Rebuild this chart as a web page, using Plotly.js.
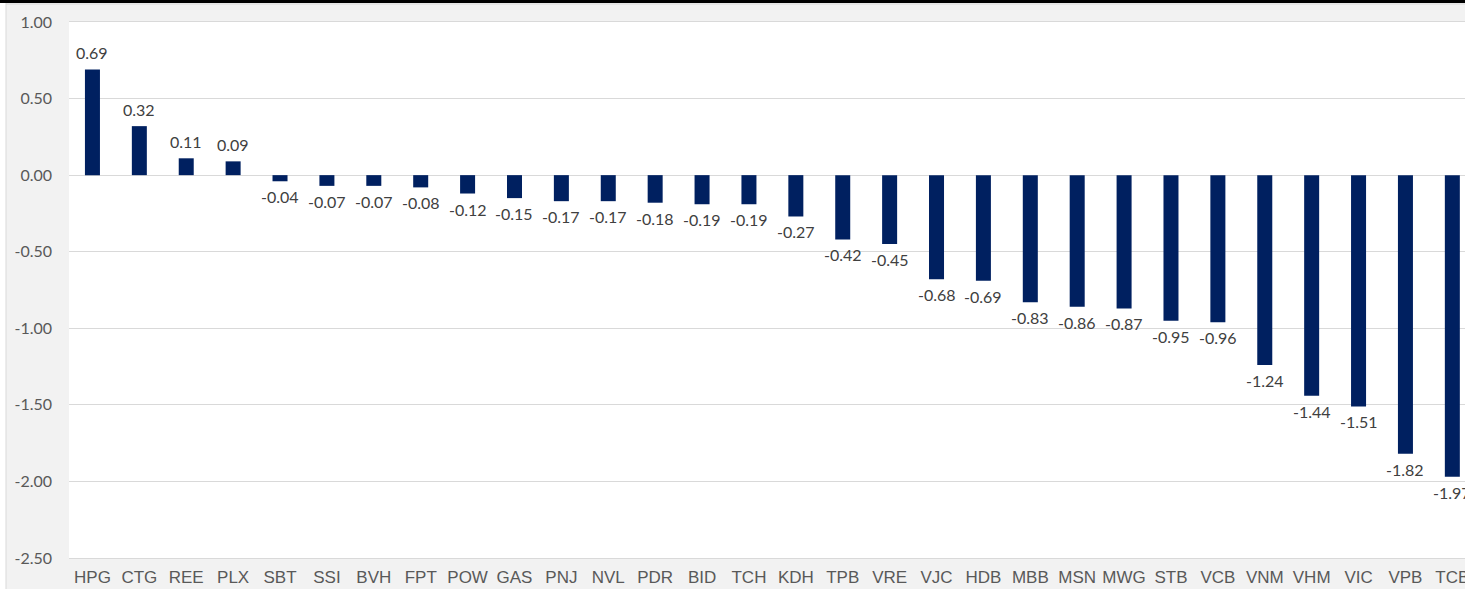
<!DOCTYPE html>
<html>
<head>
<meta charset="utf-8">
<script src="https://cdn.plot.ly/plotly-3.0.1.min.js"></script>
<style>html,body{margin:0;padding:0;background:#fff;}#chart{width:1465px;height:591px;}</style>
</head>
<body>
<div id="chart"></div>
<script>
var categories = ["HPG","CTG","REE","PLX","SBT","SSI","BVH","FPT","POW","GAS","PNJ","NVL","PDR","BID","TCH","KDH","TPB","VRE","VJC","HDB","MBB","MSN","MWG","STB","VCB","VNM","VHM","VIC","VPB","TCB"];
var values = [0.69,0.32,0.11,0.09,-0.04,-0.07,-0.07,-0.08,-0.12,-0.15,-0.17,-0.17,-0.18,-0.19,-0.19,-0.27,-0.42,-0.45,-0.68,-0.69,-0.83,-0.86,-0.87,-0.95,-0.96,-1.24,-1.44,-1.51,-1.82,-1.97];
var yTicks = [1.0,0.5,0.0,-0.5,-1.0,-1.5,-2.0,-2.5];
var yTickLabels = ["1.00","0.50","0.00","-0.50","-1.00","-1.50","-2.00","-2.50"];

var W = 1465, H = 591, L = 69, T = 22, B = 33;
var pw = W - L, ph = H - T - B;
function px(x){ return (x - L) / pw; }
function py(y){ return (H - B - y) / ph; }

var annotations = values.map(function(v, i){
  return {
    x: categories[i], y: v, xref: 'x', yref: 'y',
    text: v.toFixed(2), showarrow: false,
    yanchor: v >= 0 ? 'bottom' : 'top',
    yshift: v >= 0 ? 5 : -4,
    font: {family: 'Lato, "Open Sans", sans-serif', size: 16, color: '#404040'}
  };
});

var shapes = [
  {type:'rect', xref:'paper', yref:'paper', x0:px(0), x1:px(6), y0:py(H), y1:py(0), fillcolor:'#ffffff', line:{width:0}, layer:'below'},
  {type:'rect', xref:'paper', yref:'paper', x0:px(0), x1:px(W), y0:py(H), y1:py(589), fillcolor:'#ffffff', line:{width:0}, layer:'below'},
  {type:'line', xref:'paper', yref:'paper', x0:px(6), x1:px(6), y0:py(589), y1:py(3), line:{color:'#d9d9d9', width:1}},
  {type:'line', xref:'paper', yref:'paper', x0:px(6), x1:px(W), y0:py(4), y1:py(4), line:{color:'#d9d9d9', width:1}},
  {type:'rect', xref:'paper', yref:'paper', x0:px(0), x1:px(W), y0:py(3), y1:py(0), fillcolor:'#000000', line:{width:0}}
];

var trace = {
  type: 'bar', x: categories, y: values,
  marker: {color: '#002060'}, width: 0.32,
  hoverinfo: 'x+y'
};

var layout = {
  width: W, height: H,
  margin: {l: L, r: 0, t: T, b: B, pad: 0},
  paper_bgcolor: '#f2f2f2', plot_bgcolor: '#ffffff',
  showlegend: false,
  xaxis: {
    type: 'category', range: [-0.5, 29.27], fixedrange: true,
    showgrid: false, zeroline: false, showline: true, mirror: true, linecolor: '#d9d9d9', linewidth: 1,
    ticks: '', ticklabelstandoff: 4,
    tickfont: {family: '"Liberation Sans", Arial, sans-serif', size: 17, color: '#595959'}
  },
  yaxis: {
    range: [-2.5, 1.0], tickvals: yTicks, ticktext: yTickLabels,
    showgrid: true, gridcolor: '#d9d9d9', gridwidth: 1,
    zeroline: true, zerolinecolor: '#d9d9d9', zerolinewidth: 1,
    showline: false, ticks: '', ticklabelstandoff: 16,
    tickfont: {family: 'Lato, "Open Sans", sans-serif', size: 16, color: '#595959'}
  },
  annotations: annotations,
  shapes: shapes
};

Plotly.newPlot('chart', [trace], layout, {displayModeBar: false, staticPlot: true});
</script>
</body>
</html>
